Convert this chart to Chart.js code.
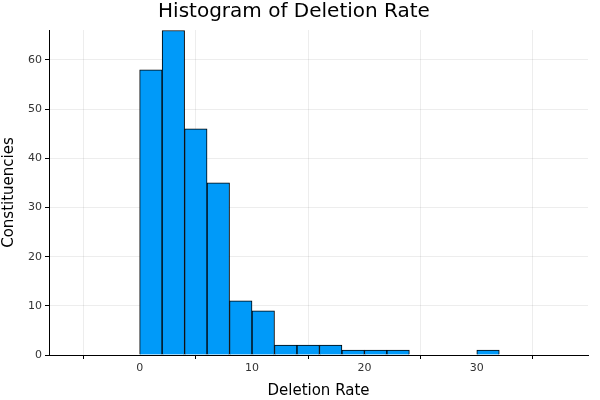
<!DOCTYPE html>
<html><head>
<script src="https://cdn.jsdelivr.net/npm/chart.js@4"></script>
<style>body{margin:0;background:#fff}</style>
</head><body>
<canvas id="c" width="600" height="400"></canvas>
<script>
// bin centers (width 2) and counts
const binCenters = [1,3,5,7,9,11,13,15,17,19,21,23,25,27,29,31]
const counts = [58,66,46,35,11,9,2,2,2,1,1,1,0,0,0,1]
const xTicks = [0,10,20,30]
const yTicks = [0,10,20,30,40,50,60]

const data = binCenters.map((x, i) => ({x: x, y: counts[i]}))

new Chart(document.getElementById('c'), {
  type: 'bar',
  data: {
    datasets: [{
      data: data,
      backgroundColor: '#009af9',
      borderColor: '#000',
      borderWidth: 1,
      barPercentage: 1,
      categoryPercentage: 1
    }]
  },
  options: {
    responsive: false,
    animation: false,
    devicePixelRatio: 1,
    layout: {padding: {left: 0, right: 12, top: 0, bottom: 0}},
    plugins: {
      legend: {display: false},
      tooltip: {enabled: false},
      title: {display: true, text: 'Histogram of Deletion Rate', color: '#000',
        font: {family: 'DejaVu Sans', size: 20, weight: 'normal'}, padding: {top: 0, bottom: 6}}
    },
    scales: {
      x: {
        type: 'linear', min: -2.07, max: 33.9,
        afterBuildTicks: ax => { ax.ticks = xTicks.map(v => ({value: v})) },
        afterFit: ax => { ax.height = 45 },
        grid: {color: 'rgba(0,0,0,0.07)', tickLength: 4, tickColor: '#000'},
        border: {color: '#000'},
        ticks: {color: '#333', font: {family: 'DejaVu Sans', size: 11}, padding: 3},
        title: {display: true, text: 'Deletion Rate', color: '#000', font: {family: 'DejaVu Sans', size: 15}, padding: 0}
      },
      y: {
        min: 0, max: 66.1,
        afterBuildTicks: ax => { ax.ticks = yTicks.map(v => ({value: v})) },
        afterFit: ax => { ax.width = 49 },
        grid: {color: 'rgba(0,0,0,0.07)', tickLength: 4, tickColor: '#000'},
        border: {color: '#000'},
        ticks: {color: '#333', font: {family: 'DejaVu Sans', size: 11}, padding: 3},
        title: {display: true, text: 'Constituencies', color: '#000', font: {family: 'DejaVu Sans', size: 15}, padding: 0}
      }
    }
  }
})
</script>
</body></html>
